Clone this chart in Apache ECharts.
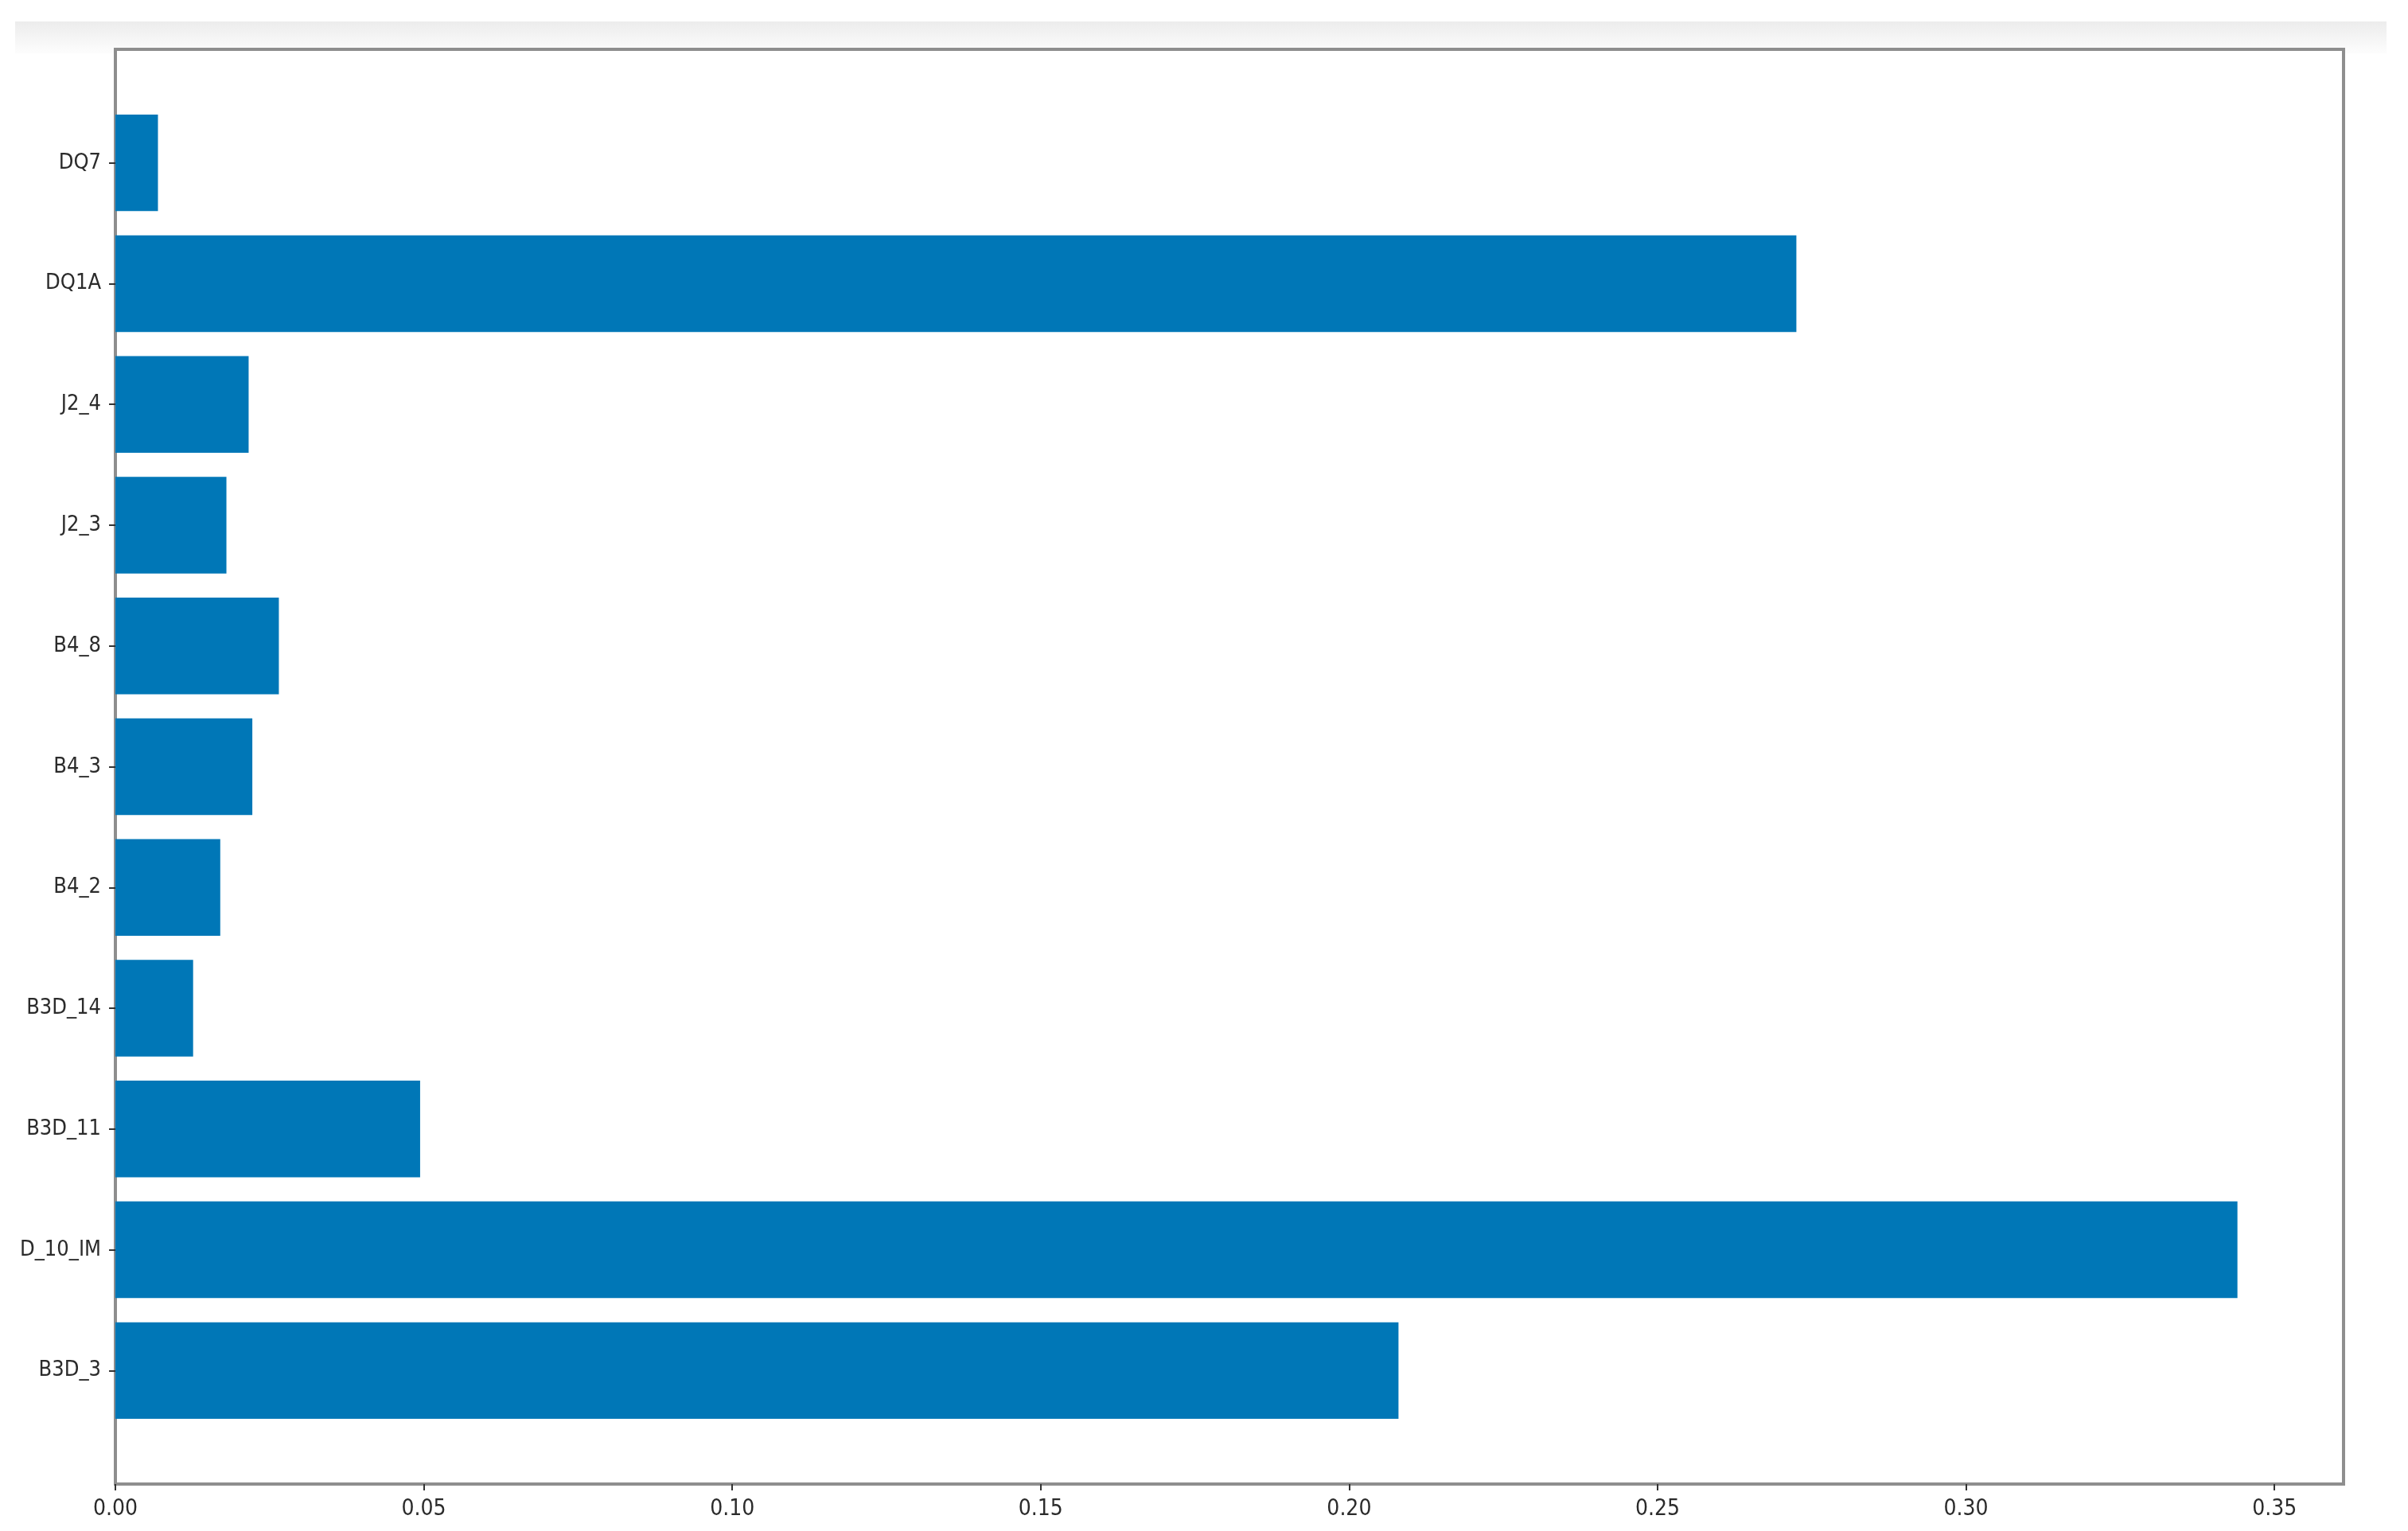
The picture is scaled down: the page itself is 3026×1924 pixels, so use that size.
<!DOCTYPE html>
<html>
<head>
<meta charset="utf-8">
<script src="https://cdn.jsdelivr.net/npm/echarts@6/dist/echarts.min.js"></script>
<style>
html,body{margin:0;padding:0;background:#fff;}
#chart{width:3026px;height:1924px;}
</style>
</head>
<body>
<div id="chart"></div>
<script>
// Categories from bottom to top (y index 0..10)
const categories = ['B3D_3', 'D_10_IM', 'B3D_11', 'B3D_14', 'B4_2', 'B4_3', 'B4_8', 'J2_3', 'J2_4', 'DQ1A', 'DQ7'];
const importances = [0.2080, 0.3440, 0.0494, 0.0126, 0.0170, 0.0222, 0.0265, 0.0180, 0.0216, 0.2725, 0.0069];
const xTickValues = [0.00, 0.05, 0.10, 0.15, 0.20, 0.25, 0.30, 0.35];
const yTickValues = [0, 1, 2, 3, 4, 5, 6, 7, 8, 9, 10];

const barHalf = 0.4;
const xMax = 0.3612;
const yMin = -0.94, yMax = 10.94;

const FONT = "'DejaVu Sans Condensed', 'DejaVu Sans', sans-serif";
const chart = echarts.init(document.getElementById('chart'), null, {renderer: 'canvas'});

const option = {
  backgroundColor: '#ffffff',
  animation: false,
  graphic: [{
    type: 'rect',
    z: -10,
    silent: true,
    shape: {x: 19, y: 27, width: 2980, height: 40},
    style: {
      fill: new echarts.graphic.LinearGradient(0, 0, 0, 1, [
        {offset: 0, color: '#ececec'},
        {offset: 1, color: '#fdfdfd'}
      ])
    }
  }],
  grid: {
    left: 145, top: 62, width: 2800, height: 1803,
    show: true, borderColor: '#8e8e8e', borderWidth: 4, backgroundColor: '#ffffff',
    containLabel: false
  },
  xAxis: {
    type: 'value',
    min: 0, max: xMax,
    position: 'bottom',
    axisLine: {show: false, onZero: false},
    splitLine: {show: false},
    axisTick: {show: true, length: 8, lineStyle: {color: '#333', width: 2}, customValues: xTickValues},
    axisLabel: {
      customValues: xTickValues,
      margin: 18,
      color: '#2b2b2b',
      fontFamily: FONT,
      fontSize: 28,
      formatter: v => v.toFixed(2)
    }
  },
  yAxis: {
    type: 'value',
    min: yMin, max: yMax,
    position: 'left',
    axisLine: {show: false, onZero: false},
    splitLine: {show: false},
    axisTick: {show: true, length: 8, lineStyle: {color: '#333', width: 2}, customValues: yTickValues},
    axisLabel: {
      customValues: yTickValues,
      margin: 18,
      padding: [12, 0, 0, 0],
      color: '#2b2b2b',
      fontFamily: FONT,
      fontSize: 27,
      formatter: v => categories[Math.round(v)]
    }
  },
  series: [{
    type: 'custom',
    coordinateSystem: 'cartesian2d',
    encode: {x: 0, y: 1},
    data: importances.map((v, i) => [v, i]),
    renderItem: function (params, api) {
      const i = api.value(1);
      const p0 = api.coord([0, i - barHalf]);
      const p1 = api.coord([api.value(0), i + barHalf]);
      return {
        type: 'rect',
        shape: {x: p0[0], y: p1[1], width: p1[0] - p0[0], height: p0[1] - p1[1]},
        style: {fill: '#0077b7'}
      };
    }
  }]
};
chart.setOption(option);
</script>
</body>
</html>
